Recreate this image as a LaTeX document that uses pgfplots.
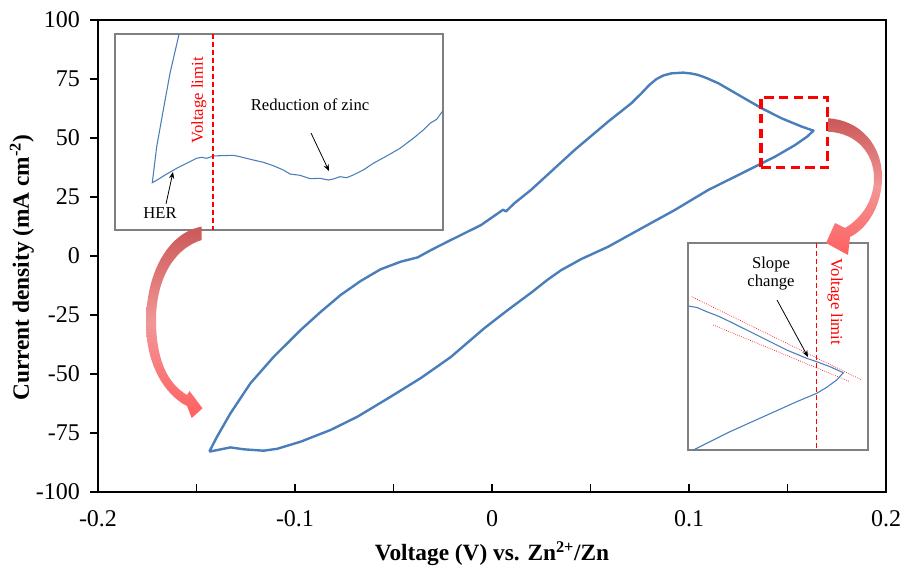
\documentclass[border=0pt]{standalone}
\usepackage{fontspec}
\setmainfont{Liberation Serif}
\usepackage{pgfplots}
\pgfplotsset{compat=1.18}
\usetikzlibrary{arrows.meta}
\definecolor{cvblue}{RGB}{74,126,187}
\definecolor{arrdark}{RGB}{203,88,88}
\definecolor{arrlight}{RGB}{255,96,96}
\definecolor{arrmid}{RGB}{242,150,150}
\definecolor{framegray}{RGB}{128,128,128}
\begin{document}
\begin{tikzpicture}
\path[use as bounding box] (0,0) rectangle (679.5pt,423.75pt);
% ---------------- main axis ----------------
\begin{axis}[
  at={(73.5pt,54.75pt)}, anchor=south west, scale only axis,
  width=591pt, height=354pt,
  xmin=-0.2, xmax=0.2, ymin=-100, ymax=100,
  xtick={-0.2,-0.15,-0.1,-0.05,0,0.05,0.1,0.15,0.2},
  xticklabels={-0.2,,-0.1,,0,,0.1,,0.2},
  ytick={-100,-75,-50,-25,0,25,50,75,100},
  yticklabels={-100,-75,-50,-25,0,25,50,75,100},
  xtick pos=bottom, ytick pos=left,
  tick align=inside, major tick length=6pt,
  y tick style={xshift=-6pt},
  tick style={black, line width=1pt},
  axis line style={black, line width=1.5pt},
  tick label style={font=\fontsize{18}{18}\selectfont},
  xticklabel style={yshift=-10pt},
  yticklabel style={xshift=-10pt},
  xlabel={\textbf{Voltage (V) vs. Zn\textsuperscript{2+}/Zn}},
  ylabel={\textbf{Current density (mA cm\textsuperscript{-2})}},
  label style={font=\fontsize{17.5}{20}\selectfont},
  xlabel style={at={(axis description cs:0.5,0)}, anchor=base, yshift=-51.5pt},
  ylabel style={at={(axis description cs:-0.0967,0.4756)}, anchor=center},
  clip=false,
]
\addplot[cvblue, line width=1.8pt, line join=round] coordinates {
(-0.1435,-82.9) (-0.1328,-81.1) (-0.1261,-81.9) (-0.1159,-82.5) (-0.1091,-81.7)
(-0.0972,-78.7) (-0.0819,-73.7) (-0.0683,-68.1) (-0.0514,-59.6) (-0.0361,-51.7)
(-0.0209,-42.8) (-0.0039,-30.6) (0.0080,-22.9) (0.0198,-15.6) (0.0283,-10.0)
(0.0351,-6.0) (0.0453,-1.3) (0.0589,3.9) (0.0758,11.7) (0.0928,19.5)
(0.1098,28.0) (0.1267,35.0) (0.1437,42.1) (0.1538,47.0) (0.1600,50.6) (0.1632,53.1)
(0.1573,54.8) (0.1471,58.3) (0.1369,62.6) (0.1267,67.5) (0.1149,73.2)
(0.1089,75.4) (0.1047,76.7) (0.1013,77.3) (0.0970,77.7) (0.0911,77.4)
(0.0870,76.5) (0.0835,75.0) (0.0799,72.5) (0.0758,68.9)
(0.0707,64.7) (0.0589,56.9) (0.0419,44.9) (0.0317,37.1) (0.0249,31.9)
(0.0198,28.0) (0.0113,22.3) (0.0071,18.9) (0.0056,19.6) (-0.0056,13.1)
(-0.0225,6.1) (-0.0310,2.5) (-0.0378,-0.6) (-0.0463,-2.4) (-0.0565,-5.6)
(-0.0667,-10.6) (-0.0768,-16.5) (-0.0870,-23.7) (-0.0972,-31.4) (-0.1108,-42.7)
(-0.1226,-53.9) (-0.1328,-66.7) (-0.1396,-76.6) (-0.1435,-82.9)
};
\draw[red, line width=2.4pt, dash pattern=on 7pt off 4pt]
  (axis cs:0.1365,37.6) rectangle (axis cs:0.1705,67.2);
\end{axis}
% ---------------- inset 1 (top left) ----------------
\begin{axis}[
  at={(86.25pt,251.25pt)}, anchor=south west, scale only axis,
  width=246pt, height=147pt,
  xmin=115, xmax=443, ymin=-230, ymax=-34,
  xtick=\empty, ytick=\empty,
  axis line style={framegray, line width=0.8pt},
  axis background/.style={fill=white},
]
\addplot[cvblue, line width=0.8pt] coordinates {
(180.5,-30) (179,-34.3) (170,-73.3) (163.3,-110) (156.7,-146.7) (152.3,-182.7)
(158.3,-179.3) (166.7,-174) (176.7,-168.3) (186.7,-163.3) (196.7,-158.3)
(201.7,-157.3) (206.7,-158.3) (213.3,-156) (220,-155.7) (233.3,-155.3)
(240,-156.7) (253.3,-160) (263.3,-162.3) (273.3,-165.7) (283.3,-170)
(290,-174) (300,-175.3) (310,-178.7) (320,-178.3) (328.3,-180) (333.3,-179)
(340,-176.7) (346.7,-177.7) (353.3,-175) (363.3,-170) (373.3,-163.3)
(386.7,-156) (400,-148.3) (413.3,-138.3) (423.3,-130) (430,-123.3)
(436.7,-119.3) (442.7,-111)
};
\addplot[red, line width=0.9pt, dash pattern=on 4pt off 2pt] coordinates {(213,-34) (213,-230)};
\node[red, rotate=90, font=\fontsize{12.5}{14}\selectfont] at (axis cs:199,-100.5) {Voltage limit};
\node[font=\fontsize{12.5}{14}\selectfont] at (axis cs:310,-105) {Reduction of zinc};
\draw[black, line width=0.6pt, -{Stealth[length=5pt,width=4pt]}] (axis cs:311,-133) -- (axis cs:329,-171);
\node[font=\fontsize{12.5}{14}\selectfont] at (axis cs:160,-213) {HER};
\draw[black, line width=0.6pt, -{Stealth[length=5pt,width=4pt]}] (axis cs:166,-204) -- (axis cs:173,-172);
\end{axis}
% ---------------- inset 2 (bottom right) ----------------
\begin{axis}[
  at={(516pt,86.25pt)}, anchor=south west, scale only axis,
  width=135pt, height=155.25pt,
  xmin=688, xmax=868, ymin=-450, ymax=-243,
  xtick=\empty, ytick=\empty,
  axis line style={framegray, line width=0.8pt},
  axis background/.style={fill=white},
]
\addplot[red, line width=0.5pt, densely dotted] coordinates {(691.7,-296.7) (861.7,-380)};
\addplot[red, line width=0.5pt, densely dotted] coordinates {(713.3,-325) (850,-381.7)};
\addplot[cvblue, line width=0.8pt] coordinates {
(688.3,-306) (697,-307.5) (706.7,-311.7) (718,-316) (730,-321.7) (746.7,-330)
(766.7,-340) (786.7,-350) (806.7,-358.3) (816.7,-361.7) (830,-366.7) (843.3,-372.7)
(836.7,-380) (826.7,-387.3) (816.7,-393.3) (796.7,-401.7) (763.3,-416.7)
(730,-431.7) (693.3,-450)
};
\addplot[red, line width=0.9pt, dash pattern=on 4pt off 2pt] coordinates {(816.7,-243) (816.7,-450)};
\node[red, rotate=-90, font=\fontsize{12.5}{14}\selectfont] at (axis cs:835,-302) {Voltage limit};
\node[align=center, font=\fontsize{12.5}{13.5}\selectfont] at (axis cs:771,-274) {Slope\\change};
\draw[black, line width=0.6pt, -{Stealth[length=5pt,width=4pt]}] (axis cs:777,-300) -- (axis cs:808,-357);
\end{axis}
% ---------------- curved call-out arrows (pixel units) ----------------
\begin{scope}[x=0.75pt, y=-0.75pt, shift={(0pt,423.75pt)}]
\shade[top color=arrdark, bottom color=arrlight, middle color=arrmid]
  (201.7,226.7) .. controls (170,232) and (146,270) .. (146,323)
  .. controls (146,365) and (165,395) .. (187,406)
  -- (191.7,418) -- (202.5,408.3) -- (189.5,391) -- (187,395)
  .. controls (165,382) and (156,355) .. (156,320)
  .. controls (156,285) and (170,250) .. (201.7,240) -- cycle;
\shade[top color=arrdark, bottom color=arrlight, middle color=arrmid]
  (828,118.3) .. controls (860,120) and (882,145) .. (882,177)
  .. controls (882,205) and (868,228) .. (850,237)
  -- (848,255) -- (826,243) -- (835,223) -- (845,228)
  .. controls (862,218) and (874,200) .. (874,178)
  .. controls (874,155) and (858,133) .. (828,131.7) -- cycle;
\end{scope}
\end{tikzpicture}
\end{document}
